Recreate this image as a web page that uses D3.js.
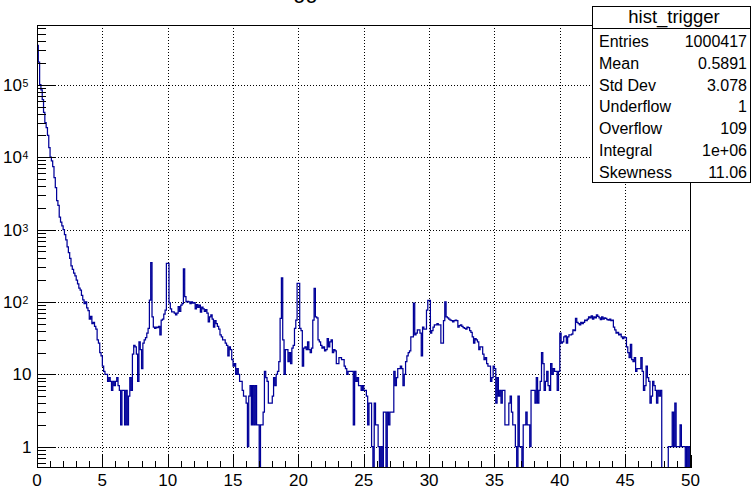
<!DOCTYPE html>
<html>
<head>
<meta charset="utf-8">
<script src="https://cdn.jsdelivr.net/npm/d3@7"></script>
<style>
  html, body { margin: 0; padding: 0; background: #fff; }
  svg { display: block; font-family: "Liberation Sans", Arial, Helvetica, sans-serif; }
</style>
</head>
<body>
<svg id="chart" width="751" height="489"></svg>
<script>
// Histogram binning: 500 bins of width 0.1 between 0 and 50
const xMin = 0;
const xMax = 50;
const nBins = 500;

// Bin contents, ten bins (one unit of x) per row
const counts = [
  350000, 205000, 100000, 85000, 62000, 41500, 30000, 25500, 20000, 13500,
  10000, 8900, 7400, 5200, 3800, 2500, 2150, 1480, 1260, 1120,
  1000, 850, 720, 575, 480, 400, 315, 282, 250, 229,
  200, 178, 155, 145, 123, 107, 95, 100, 83, 76,
  58, 63, 50, 52, 46, 42, 30, 27, 20, 18,
  13, 11, 10, 10, 8, 9, 8, 6, 8, 7,
  8, 9, 7, 6, 2, 6, 6, 2, 6, 2,
  5, 9, 6, 19, 25, 24, 19, 8, 28, 22,
  12, 27, 30, 32, 37, 43, 106, 350, 62, 45,
  43, 45, 44, 46, 35, 56, 58, 68, 77, 340,
  340, 97, 80, 73, 73, 70, 66, 70, 86, 74,
  90, 95, 285, 118, 100, 102, 100, 95, 100, 96,
  98, 80, 92, 84, 90, 72, 85, 80, 74, 78,
  70, 53, 62, 66, 58, 45, 55, 50, 46, 42,
  35, 33, 30, 30, 27, 25, 18, 24, 22, 16,
  13, 14, 10, 12, 10, 8, 8, 6, 5, 5,
  4, 1, 5, 7, 2, 7, 2, 7, 2, 2,
  0, 2, 2, 3, 11, 9, 8, 4, 4, 4,
  5, 9, 7, 10, 11, 15, 59, 215, 30, 10,
  22, 22, 15, 20, 14, 23, 25, 43, 56, 180,
  180, 43, 40, 13, 23, 24, 22, 28, 22, 20,
  23, 56, 154, 62, 60, 30, 28, 25, 23, 24,
  21, 22, 31, 24, 28, 30, 20, 22, 21, 14,
  14, 17, 17, 16, 16, 13, 12, 10, 11, 11,
  11, 11, 2, 11, 8, 9, 7, 7, 6, 7,
  6, 6, 5, 2, 4, 4, 1, 0, 4, 2,
  2, 1, 0, 1, 0, 3, 3, 0, 3, 2,
  3, 3, 3, 11, 7, 9, 12, 12, 13, 12,
  7, 10, 15, 18, 20, 21, 33, 33, 96, 35,
  37, 41, 41, 37, 18, 45, 42, 42, 77, 105,
  105, 37, 40, 45, 48, 48, 50, 48, 48, 27,
  27, 55, 100, 62, 60, 58, 56, 55, 53, 55,
  56, 55, 45, 47, 48, 46, 44, 43, 42, 45,
  44, 40, 38, 33, 27, 31, 30, 28, 22, 24,
  24, 19, 16, 17, 14, 13, 13, 8, 9, 13,
  12, 4, 9, 5, 6, 4, 6, 6, 2, 2,
  2, 4, 5, 3, 2, 2, 1, 0, 5, 1,
  1, 0, 2, 2, 3, 2, 2, 1, 6, 6,
  6, 4, 9, 4, 6, 8, 20, 14, 6, 8,
  11, 7, 6, 14, 10, 12, 11, 11, 6, 11,
  37, 27, 28, 33, 34, 27, 33, 35, 35, 36,
  41, 40, 59, 52, 50, 48, 52, 50, 52, 56,
  55, 58, 62, 60, 64, 58, 62, 60, 66, 63,
  60, 57, 62, 58, 60, 59, 57, 56, 58, 55,
  56, 45, 41, 37, 38, 35, 36, 33, 31, 33,
  32, 24, 20, 17, 26, 16, 15, 17, 11, 12,
  12, 12, 17, 11, 6, 7, 13, 9, 8, 4,
  5, 8, 7, 6, 4, 6, 5, 6, 0, 0,
  0, 0, 0, 1, 1, 1, 3, 1, 4, 1,
  1, 1, 2, 1, 1, 1, 0, 1, 0, 1
];

// Axis ticks
const xMajorTicks = [0, 5, 10, 15, 20, 25, 30, 35, 40, 45, 50];
const xMinorTicks = d3.range(0, 51, 1);
const yDecades = [-1, 0, 1, 2, 3, 4, 5];
const yRange = [0.516, 668000];

// Statistics box
const histName = "hist_trigger";
const plotTitle = "trigger";
const statLabels = ["Entries", "Mean", "Std Dev", "Underflow", "Overflow", "Integral", "Skewness"];
const statValues = ["1000417", "0.5891", "3.078", "1", "109", "1e+06", "11.06"];

const svg = d3.select("#chart");
const frame = { left: 37, right: 690.5, top: 25, bottom: 467.5 };

const x = d3.scaleLinear().domain([xMin, xMax]).range([frame.left, frame.right]);
const y = d3.scaleLog().domain(yRange).range([frame.bottom, frame.top]);

// Title, placed high so that only its descenders reach the canvas
svg.append("text")
  .attr("x", 275).attr("y", -2)
  .attr("font-size", 22)
  .attr("fill", "#000")
  .text(plotTitle);

// Grid
const grid = svg.append("g")
  .attr("stroke", "#000").attr("stroke-width", 1)
  .attr("stroke-dasharray", "1,2").attr("shape-rendering", "crispEdges");
xMajorTicks.filter(v => v > xMin && v < xMax).forEach(v => {
  const px = Math.round(x(v)) + 0.5;
  grid.append("line").attr("x1", px).attr("x2", px)
    .attr("y1", frame.top).attr("y2", frame.bottom);
});
yDecades.map(d => Math.pow(10, d)).filter(v => v > yRange[0] && v < yRange[1]).forEach(v => {
  const py = Math.round(y(v)) + 0.5;
  grid.append("line").attr("x1", frame.left).attr("x2", frame.right)
    .attr("y1", py).attr("y2", py);
});

// Histogram outline
const binW = (xMax - xMin) / nBins;
const yOf = c => (c > yRange[0] ? y(c) : frame.bottom);
let d = `M${x(xMin)},${frame.bottom}`;
counts.forEach((c, i) => {
  d += `V${yOf(c)}H${x(xMin + (i + 1) * binW)}`;
});
d += `V${frame.bottom}`;

svg.append("clipPath").attr("id", "plotClip")
  .append("rect")
  .attr("x", frame.left).attr("y", frame.top)
  .attr("width", frame.right - frame.left).attr("height", frame.bottom - frame.top);

svg.append("path")
  .attr("d", d)
  .attr("clip-path", "url(#plotClip)")
  .attr("fill", "none")
  .attr("stroke", "#000099")
  .attr("stroke-width", 1.25);

// Frame
const axes = svg.append("g").attr("stroke", "#000").attr("stroke-width", 1)
  .attr("shape-rendering", "crispEdges");
axes.append("rect")
  .attr("x", frame.left).attr("y", frame.top)
  .attr("width", frame.right - frame.left).attr("height", frame.bottom - frame.top)
  .attr("fill", "none");

// X axis ticks
xMinorTicks.forEach(v => {
  const major = v % 5 === 0;
  const px = Math.round(x(v)) + 0.5;
  axes.append("line").attr("x1", px).attr("x2", px)
    .attr("y1", frame.bottom).attr("y2", frame.bottom - (major ? 13 : 6.5));
});
svg.append("g").selectAll("text").data(xMajorTicks).join("text")
  .attr("x", v => x(v)).attr("y", 486)
  .attr("text-anchor", "middle").attr("font-size", 17).attr("fill", "#000")
  .text(v => v);

// Y axis ticks (log)
yDecades.forEach(dec => {
  for (let m = 1; m <= 9; m++) {
    const v = m * Math.pow(10, dec);
    if (v < yRange[0] || v > yRange[1]) continue;
    const py = Math.round(y(v)) + 0.5;
    axes.append("line").attr("x1", frame.left).attr("x2", frame.left + (m === 1 ? 18 : 9))
      .attr("y1", py).attr("y2", py);
  }
});
const yLabels = svg.append("g").attr("font-size", 17).attr("fill", "#000");
yDecades.filter(dd => Math.pow(10, dd) >= yRange[0]).forEach(dd => {
  const py = y(Math.pow(10, dd)) + 6;
  if (dd <= 1) {
    yLabels.append("text").attr("x", 31.5).attr("y", py)
      .attr("text-anchor", "end").text(dd === 0 ? "1" : "10");
  } else {
    yLabels.append("text").attr("x", 22).attr("y", py)
      .attr("text-anchor", "end").text("10");
    yLabels.append("text").attr("x", 22.5).attr("y", py - 4)
      .attr("font-size", 10.5).text(dd);
  }
});

// Statistics box
const box = { left: 592.5, top: 6.5, right: 750.5, bottom: 182.5, header: 28.5 };
const stats = svg.append("g");
stats.append("rect")
  .attr("x", box.left).attr("y", box.top)
  .attr("width", box.right - box.left).attr("height", box.bottom - box.top)
  .attr("fill", "#fff").attr("stroke", "#000").attr("shape-rendering", "crispEdges");
stats.append("line")
  .attr("x1", box.left).attr("x2", box.right).attr("y1", box.header).attr("y2", box.header)
  .attr("stroke", "#000").attr("shape-rendering", "crispEdges");
stats.append("text")
  .attr("x", 674).attr("y", 22.7)
  .attr("text-anchor", "middle").attr("font-size", 18.5).attr("fill", "#000")
  .text(histName);
statLabels.forEach((lab, i) => {
  const by = 47.3 + i * 21.7;
  stats.append("text").attr("x", 599).attr("y", by)
    .attr("font-size", 16).attr("fill", "#000").text(lab);
  stats.append("text").attr("x", 747).attr("y", by)
    .attr("text-anchor", "end").attr("font-size", 16).attr("fill", "#000").text(statValues[i]);
});
</script>
</body>
</html>
